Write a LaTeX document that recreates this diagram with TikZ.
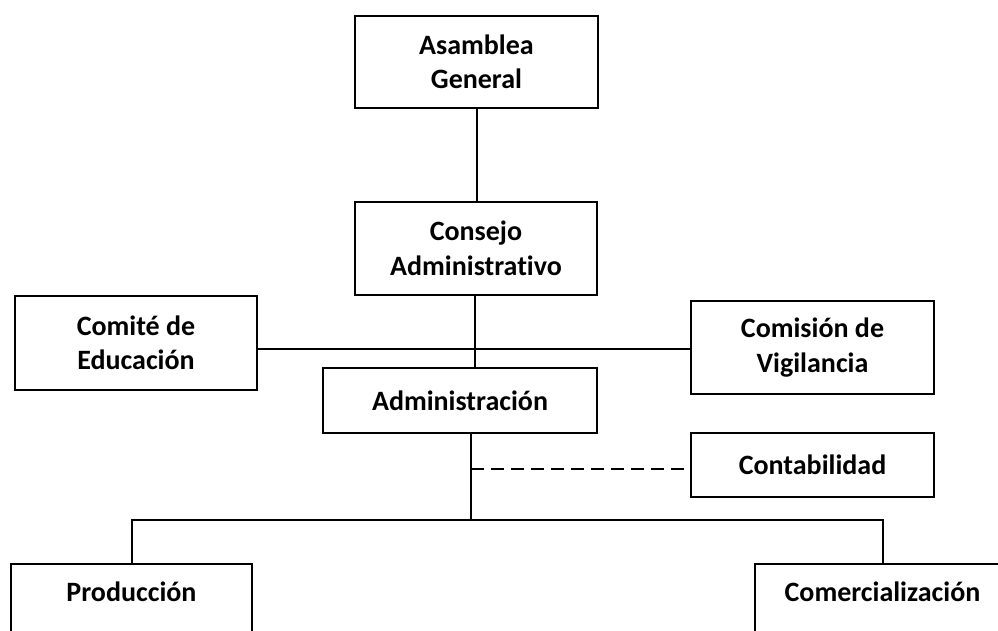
\documentclass[tikz,border=0pt]{standalone}
\usepackage{fontspec}
\setmainfont{Carlito}[Ligatures=NoCommon]
\begin{document}
\begin{tikzpicture}[x=1pt,y=-1pt,
  box/.style={draw=black, line width=2pt, align=center, inner sep=0pt,
    font=\fontsize{28}{34.5}\selectfont\bfseries},
  open/.style={box, anchor=north, text height=37pt, text depth=70pt},
  conn/.style={draw=black, line width=2pt},
  dashconn/.style={conn, dash pattern=on 13pt off 7pt}]
\useasboundingbox (0,0) rectangle (998,630);
\clip (0,0) rectangle (998,630);
\node[box, minimum width=243pt, minimum height=92pt] (ag) at (476.5,62) {Asamblea\\General};
\node[box, minimum width=242pt, minimum height=93pt] (ca) at (476,248.5) {Consejo\\Administrativo};
\node[box, minimum width=242pt, minimum height=94pt] (ce) at (136,343) {Comité de\\Educación};
\node[box, minimum width=243pt, minimum height=93pt] (cv) at (812.5,347.5) {Comisión de\\Vigilancia};
\node[box, minimum width=274pt, minimum height=65pt] (ad) at (460,400.5) {Administración};
\node[box, minimum width=243pt, minimum height=64pt] (ct) at (812.5,465) {Contabilidad};
\node[open, minimum width=241pt] (pr) at (131.5,563) {Producción};
\node[open, minimum width=255pt] (co) at (882.5,563) {Comercialización};
\coordinate (jh) at (475,349);
\coordinate (jd) at (471,469);
\coordinate (jb) at (471,520);
\draw[conn] (ag.south) -- (ag.south |- ca.north);
\draw[conn] (jh |- ca.south) -- (jh |- ad.north);
\draw[conn] (ce.east |- jh) -- (cv.west |- jh);
\draw[conn] (jb |- ad.south) -- (jb);
\draw[dashconn] (jd) -- (ct.west |- jd);
\draw[conn] (pr.north) |- (jb) -| (co.north);
\end{tikzpicture}
\end{document}
